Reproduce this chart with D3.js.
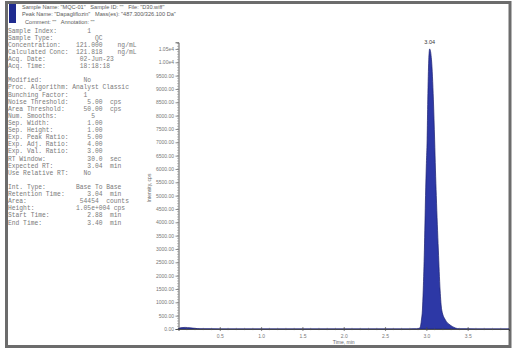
<!DOCTYPE html>
<html>
<head>
<meta charset="utf-8">
<script src="https://cdn.jsdelivr.net/npm/d3@7"></script>
<style>
  html, body { margin: 0; padding: 0; background: #fff; }
  svg { display: block; }
  text.pre { white-space: pre; }
</style>
</head>
<body>
<svg id="chart" width="513" height="351"></svg>
<script>
// Header lines of the report
const headerLines = [
  'Sample Name: "MQC-01"   Sample ID: ""   File: "D30.wiff"',
  'Peak Name: "Dapagliflozin"   Mass(es): "487.300/326.100 Da"',
  'Comment: ""   Annotation: ""'
];

// Fixed-width result panel, one string per row
const panelLines = [
  "Sample Index:".padEnd(21) + "1",
  "Sample Type:".padEnd(23) + "QC",
  "Concentration:".padEnd(18) + "121.000".padEnd(11) + "ng/mL",
  "Calculated Conc:".padEnd(18) + "121.818".padEnd(11) + "ng/mL",
  "Acq. Date:".padEnd(19) + "02-Jun-23",
  "Acq. Time:".padEnd(19) + "18:18:18",
  "",
  "Modified:".padEnd(20) + "No",
  "Proc. Algorithm: Analyst Classic",
  "Bunching Factor:".padEnd(20) + "1",
  "Noise Threshold:".padEnd(21) + "5.00  cps",
  "Area Threshold:".padEnd(20) + "50.00  cps",
  "Num. Smooths:".padEnd(22) + "5",
  "Sep. Width:".padEnd(21) + "1.00",
  "Sep. Height:".padEnd(21) + "1.00",
  "Exp. Peak Ratio:".padEnd(21) + "5.00",
  "Exp. Adj. Ratio:".padEnd(21) + "4.00",
  "Exp. Val. Ratio:".padEnd(21) + "3.00",
  "RT Window:".padEnd(21) + "30.0  sec",
  "Expected RT:".padEnd(21) + "3.04  min",
  "Use Relative RT:".padEnd(20) + "No",
  "",
  "Int. Type:".padEnd(18) + "Base To Base",
  "Retention Time:".padEnd(21) + "3.04  min",
  "Area:".padEnd(19) + "54454  counts",
  "Height:".padEnd(18) + "1.05e+004 cps",
  "Start Time:".padEnd(21) + "2.88  min",
  "End Time:".padEnd(21) + "3.40  min"
];

// Chromatogram trace: retention time (min) and intensity (cps)
const timeMin = [0.00, 0.03, 0.08, 0.14, 0.20, 0.26, 0.50, 1.00, 1.50, 2.00, 2.50, 2.80, 2.88,
  2.92, 2.932, 2.94, 2.952, 2.962, 2.976, 2.990, 3.000, 3.009, 3.017, 3.029, 3.040,
  3.062, 3.085, 3.100, 3.110, 3.120, 3.145, 3.166, 3.186, 3.230, 3.287, 3.350, 3.400,
  3.60, 3.80, 4.00];
const intensity = [20, 50, 60, 45, 25, 8, 4, 4, 4, 4, 4, 4, 5,
  40, 150, 340, 710, 1460, 2960, 5000, 6200, 7090, 8590, 10090, 10500,
  10090, 8590, 7090, 5960, 5000, 2960, 1460, 710, 340, 150, 40, 5,
  4, 4, 4];

const apexTime = 3.04;
const apexHeight = 10500;
const yTicks = d3.range(0, 10501, 500);
const xTicks = [0.5, 1.0, 1.5, 2.0, 2.5, 3.0, 3.5];

const svg = d3.select("#chart");
const sans = "Liberation Sans, Arial, sans-serif";

// Outer report frame
svg.append("rect")
  .attr("x", 6.5).attr("y", 2.5).attr("width", 503.5).attr("height", 344)
  .attr("fill", "none").attr("stroke", "#6c6c6c").attr("stroke-width", 3);

// Header marker and header text
svg.append("rect").attr("x", 9).attr("y", 4).attr("width", 7).attr("height", 19).attr("fill", "#1f2b8f");
const headerX = [22, 22, 25];
svg.selectAll("text.hdr").data(headerLines).join("text")
  .attr("class", "hdr pre")
  .attr("x", (d, i) => headerX[i])
  .attr("y", (d, i) => 8.5 + i * 7.7)
  .attr("font-family", sans)
  .attr("font-size", 5.6)
  .attr("fill", "#5a5a5a")
  .text(d => d);

// Result panel
svg.selectAll("text.panel").data(panelLines).join("text")
  .attr("class", "panel pre")
  .attr("x", 8)
  .attr("y", (d, i) => 32.6 + i * 7.11)
  .attr("font-family", "Liberation Mono, Courier New, monospace")
  .attr("font-size", 6.3)
  .attr("fill", "#7a7a7a")
  .text(d => d);

// Plot scales
const x = d3.scaleLinear().domain([0, 4]).range([178.5, 509]);
const y = d3.scaleLinear().domain([0, 10750]).range([329, 42.3]);

// Peak area
const trace = timeMin.map((t, i) => ({ t, v: intensity[i] }));
svg.append("path")
  .datum(trace)
  .attr("d", d3.area().x(d => x(d.t)).y0(y(0)).y1(d => y(d.v)).curve(d3.curveMonotoneX))
  .attr("fill", "#2d38a6")
  .attr("stroke", "#1b2070")
  .attr("stroke-width", 0.7);

// Y axis
const yAxis = svg.append("g").attr("transform", `translate(${x(0)},0)`)
  .call(d3.axisLeft(y).tickValues(yTicks).tickSize(3).tickPadding(1.5)
    .tickFormat(v => v >= 10000 ? (v / 1e4).toFixed(2) + "e4" : v.toFixed(2)));
yAxis.select(".domain").attr("stroke", "#333").attr("stroke-width", 0.8);
yAxis.selectAll(".tick line").attr("stroke", "#444").attr("stroke-width", 0.6);
yAxis.selectAll(".tick text").attr("font-family", sans)
  .attr("font-size", 5).attr("fill", "#777");
// Minor y ticks
svg.append("g").selectAll("line").data(d3.range(0, 10701, 100)).join("line")
  .attr("x1", x(0) - 1.5).attr("x2", x(0))
  .attr("y1", d => y(d)).attr("y2", d => y(d))
  .attr("stroke", "#555").attr("stroke-width", 0.4);

// X axis
const xAxis = svg.append("g").attr("transform", `translate(0,${y(0)})`)
  .call(d3.axisBottom(x).tickValues(xTicks).tickSize(2).tickPadding(3.5).tickFormat(d3.format(".1f")));
xAxis.select(".domain").attr("stroke", "#333").attr("stroke-width", 0.8);
xAxis.selectAll(".tick line").attr("y1", -2).attr("stroke", "#444").attr("stroke-width", 0.6);
xAxis.selectAll(".tick text").attr("font-family", sans)
  .attr("font-size", 5).attr("fill", "#777");
// Minor x ticks
svg.append("g").selectAll("line").data(d3.range(1, 40).map(i => i / 10)).join("line")
  .attr("x1", d => x(d)).attr("x2", d => x(d))
  .attr("y1", y(0) - 1.2).attr("y2", y(0) + 1.2)
  .attr("stroke", "#555").attr("stroke-width", 0.4);

// Axis titles
svg.append("text")
  .attr("x", x(2)).attr("y", 344)
  .attr("text-anchor", "middle")
  .attr("font-family", sans)
  .attr("font-size", 5).attr("fill", "#666")
  .text("Time, min");
svg.append("text")
  .attr("transform", `translate(151,188) rotate(-90)`)
  .attr("text-anchor", "middle")
  .attr("font-family", sans)
  .attr("font-size", 5).attr("fill", "#666")
  .text("Intensity, cps");

// Apex retention time label
svg.append("text")
  .attr("x", x(apexTime)).attr("y", y(apexHeight) - 5)
  .attr("text-anchor", "middle")
  .attr("font-family", sans)
  .attr("font-size", 5.5).attr("fill", "#333")
  .text(apexTime.toFixed(2));
</script>
</body>
</html>
